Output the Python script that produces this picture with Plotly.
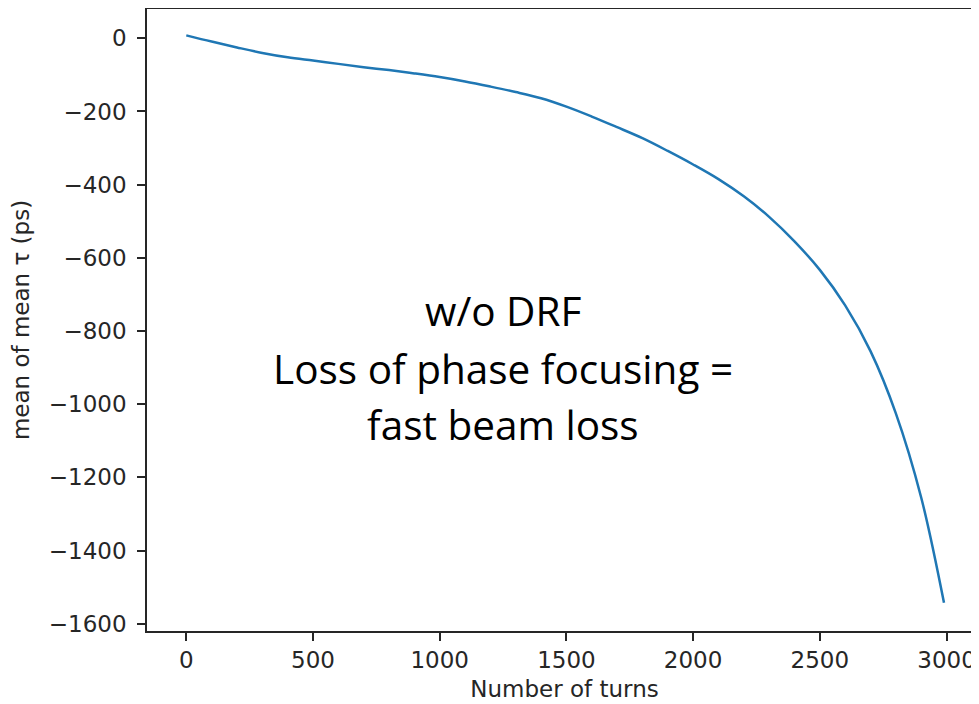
import plotly.graph_objects as go

turns = [0, 100, 200, 300, 400, 500, 600, 700, 800, 900, 1000, 1100, 1200, 1300,
         1400, 1500, 1600, 1700, 1800, 1900, 2000, 2100, 2200, 2300, 2400, 2500,
         2600, 2700, 2800, 2900, 2990]
mean_tau = [8, -9, -25, -40, -52, -61, -70, -79, -87, -96, -106, -118, -132, -147,
            -164, -187, -214, -243, -273, -308, -345, -385, -432, -488, -555, -633,
            -730, -855, -1025, -1255, -1543]

x_ticks = [0, 500, 1000, 1500, 2000, 2500, 3000]
y_ticks = [0, -200, -400, -600, -800, -1000, -1200, -1400, -1600]

note_lines = ["w/o DRF", "Loss of phase focusing =", "fast beam loss"]

# page body has an 8px margin; layout numbers below are in figure coordinates
OFF = 8
L, T, B_SCR = 147 - OFF, 1, 631 - OFF
W, H = 979, 704
R = W - (982 - OFF)

fig = go.Figure()
fig.add_trace(go.Scatter(x=turns, y=mean_tau, mode="lines",
                         line=dict(color="#1f77b4", width=2.5, shape="spline", smoothing=1.0),
                         showlegend=False, hoverinfo="skip"))

font_tick = dict(family="DejaVu Sans", size=23, color="#262626")
fig.update_xaxes(range=[-155, 3140], tickvals=x_ticks, ticktext=[str(v) for v in x_ticks],
                 showgrid=False, zeroline=False, showline=True, linecolor="#262626",
                 linewidth=1.6, mirror=True, ticks="outside", ticklen=8, tickwidth=1.5,
                 tickcolor="#262626", tickfont=font_tick, automargin=False,
                 title=dict(text="Number of turns", font=font_tick, standoff=8))
fig.update_yaxes(range=[-1620, 80], tickvals=y_ticks,
                 ticktext=[("\u2212" + str(-v)) if v < 0 else str(v) for v in y_ticks],
                 showgrid=False, zeroline=False, showline=True, linecolor="#262626",
                 linewidth=1.6, mirror=False, ticks="outside", ticklen=8, tickwidth=1.5,
                 tickcolor="#262626", tickfont=font_tick, automargin=False,
                 ticklabelstandoff=6,
                 title=dict(text="mean of mean \u03c4 (ps)", font=font_tick, standoff=14))

plot_h = B_SCR - T
baselines_px = [329, 387, 443]
for txt, yp in zip(note_lines, baselines_px):
    fig.add_annotation(text=txt, xref="paper", yref="paper",
                       x=(503 - 147) / (982 - 147), y=1 - ((yp - OFF) - T + 11) / plot_h,
                       xanchor="center", yanchor="bottom", showarrow=False,
                       font=dict(family="Open Sans", size=40.5, color="black"))

fig.update_layout(width=W, height=H, margin=dict(l=L, r=R, t=T, b=H - B_SCR),
                  paper_bgcolor="white", plot_bgcolor="white")
fig.write_html("out.html")
